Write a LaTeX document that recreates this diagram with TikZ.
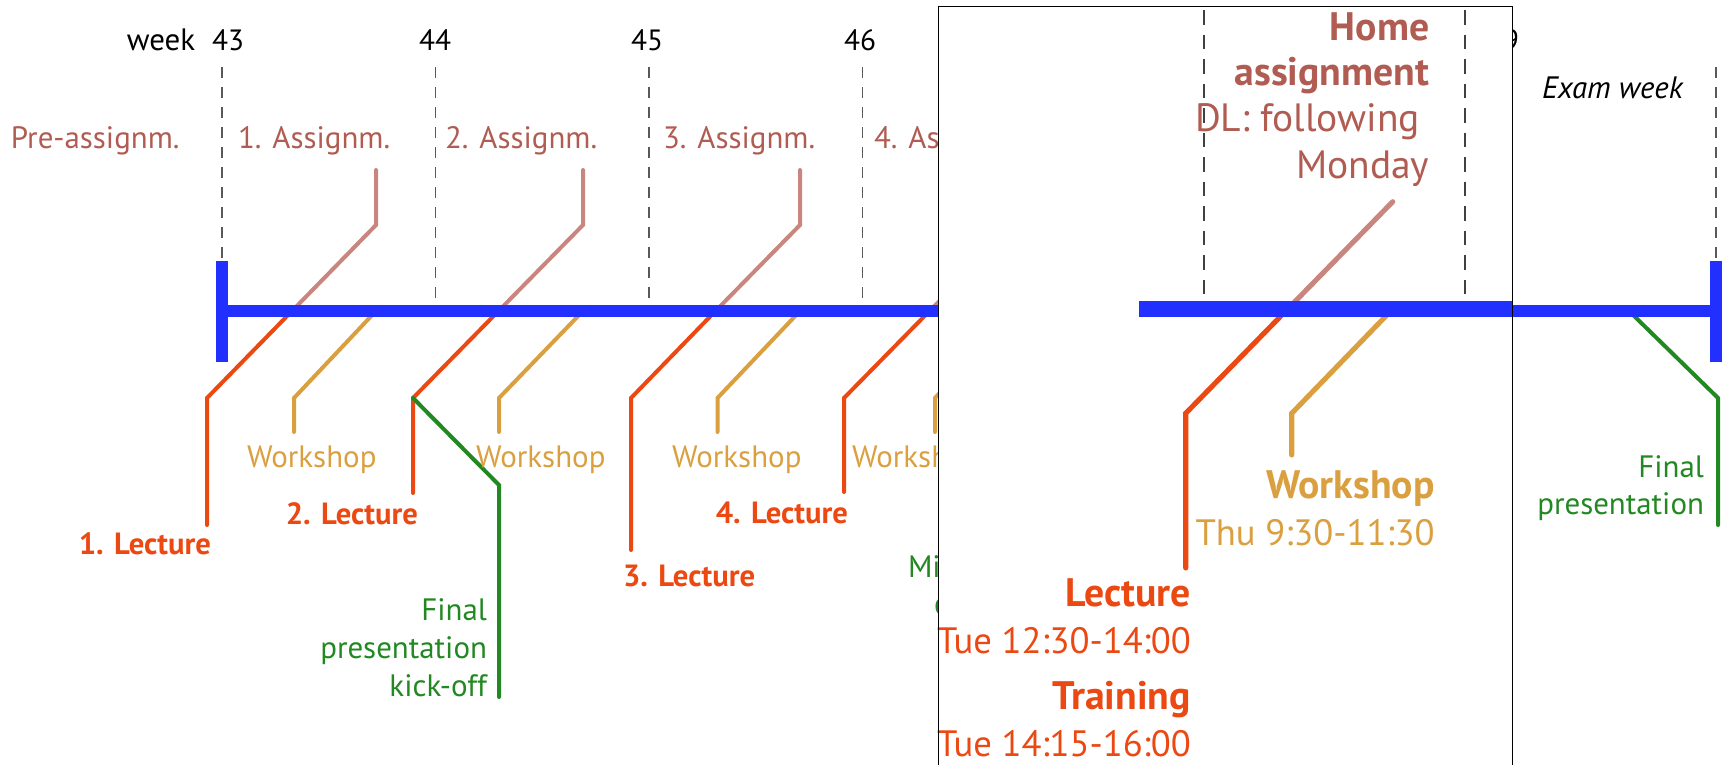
\documentclass[tikz,border=0pt]{standalone}
\usepackage{fontspec}
\setmainfont{PT Sans}
\definecolor{tlblue}{RGB}{34,48,255}
\definecolor{lectred}{RGB}{236,72,18}
\definecolor{wsgold}{RGB}{218,160,64}
\definecolor{asgline}{RGB}{201,134,126}
\definecolor{asgtext}{RGB}{176,92,82}
\definecolor{prgreen}{RGB}{34,136,34}
\tikzset{
  lbl/.style={inner sep=0pt, outer sep=0pt, font=\fontsize{22}{26}\selectfont},
  wlbl/.style={inner sep=0pt, outer sep=0pt, font=\fontsize{23.2}{27}\selectfont},
  wbold/.style={inner sep=0pt, outer sep=0pt, font=\fontsize{23}{27}\selectfont\bfseries},
  biglbl/.style={inner sep=0pt, outer sep=0pt, font=\fontsize{27.5}{33}\selectfont},
  bigword/.style={inner sep=0pt, outer sep=0pt, font=\fontsize{29.6}{35}\selectfont},
  bigbold/.style={inner sep=0pt, outer sep=0pt, font=\fontsize{29.8}{35}\selectfont\bfseries},
  weekdash/.style={black!65, line width=1.1pt, dash pattern=on 8.6pt off 6.4pt},
  boxdash/.style={black!75, line width=1.1pt, dash pattern=on 10.9pt off 7.5pt},
  conn/.style={line width=3pt, line cap=round, line join=miter},
  bigconn/.style={line width=3.8pt, line cap=round, line join=miter},
  tl/.style={tlblue, line width=9.2pt},
  tlbar/.style={tlblue, line width=9.45pt},
}
\begin{document}
\begin{tikzpicture}[x=0.75pt,y=-0.75pt]
\useasboundingbox (0,0) rectangle (1723,764);

% ---------- week labels ----------
\node[wlbl, anchor=base] (wk)  at (161,50) {week};
\node[lbl, anchor=base] (w43) at (228,50) {43};
\node[lbl, anchor=base] (w44) at (435,50) {44};
\node[lbl, anchor=base] (w45) at (647,50) {45};
\node[lbl, anchor=base] (w46) at (860,50) {46};
\node[lbl, anchor=base] (w49) at (1503,50) {49};
\node[wlbl, anchor=base west, font=\fontsize{23.2}{27}\selectfont\itshape] (exam) at (1542,98) {Exam week};

% ---------- dashed week separators ----------
\coordinate (d43t) at (222,67);   \coordinate (d43b) at (222,259);
\coordinate (d44t) at (435.5,67); \coordinate (d44b) at (435.5,305);
\coordinate (d45t) at (649,67);   \coordinate (d45b) at (649,305);
\coordinate (d46t) at (862.5,67); \coordinate (d46b) at (862.5,305);
\coordinate (d50t) at (1716,67);  \coordinate (d50b) at (1716,258);
\draw[weekdash] (d43t) -- (d43b);
\draw[weekdash] (d44t) -- (d44b);
\draw[weekdash] (d45t) -- (d45b);
\draw[weekdash] (d46t) -- (d46b);
\draw[weekdash] (d50t) -- (d50b);

% ---------- assignment labels ----------
\node[wlbl, text=asgtext, anchor=base west] (pa) at (11,148) {Pre-assignm.};
\node[wlbl, text=asgtext, anchor=base west] (a1) at (238,148) {1. Assignm.};
\node[wlbl, text=asgtext, anchor=base west] (a2) at (445,148) {2. Assignm.};
\node[wlbl, text=asgtext, anchor=base west] (a3) at (663,148) {3. Assignm.};
\node[wlbl, text=asgtext, anchor=base west] (a4) at (874,148) {4. Assignm.};

% ---------- week 43 ----------
\coordinate (p1t) at (376,170); \coordinate (p1k) at (376,225); \coordinate (x1) at (292,311);
\coordinate (l1k) at (207,398); \coordinate (l1b) at (207,525);
\draw[conn, asgline] (p1t) -- (p1k) -- (x1);
\draw[conn, lectred] (x1) -- (l1k) -- (l1b);
\coordinate (ws1s) at (376,311); \coordinate (ws1k) at (294,398); \coordinate (ws1b) at (294,432);
\draw[conn, wsgold] (ws1s) -- (ws1k) -- (ws1b);
\node[wbold, text=lectred, anchor=base east] (lec1) at (211,554) {1. Lecture};
\node[wlbl, text=wsgold, anchor=base west] (ws1) at (247,467) {Workshop};

% ---------- week 44 ----------
\coordinate (p2t) at (583,170); \coordinate (p2k) at (583,225); \coordinate (x2) at (498.5,311);
\coordinate (l2k) at (413,398); \coordinate (l2b) at (413,493);
\draw[conn, asgline] (p2t) -- (p2k) -- (x2);
\draw[conn, lectred] (x2) -- (l2k) -- (l2b);
\coordinate (ws2s) at (583,311); \coordinate (ws2k) at (499,398); \coordinate (ws2b) at (499,432);
\draw[conn, wsgold] (ws2s) -- (ws2k) -- (ws2b);
\coordinate (g1k) at (499,485); \coordinate (g1b) at (499,697);
\draw[conn, prgreen] (l2k) -- (g1k) -- (g1b);
\node[wbold, text=lectred, anchor=base east] (lec2) at (418,524) {2. Lecture};
\node[wlbl, text=wsgold, anchor=base west] (ws2) at (476,467) {Workshop};
\node[wlbl, text=prgreen, anchor=base east] (ko1) at (487,620) {Final};
\node[wlbl, text=prgreen, anchor=base east] (ko2) at (487,658) {presentation};
\node[wlbl, text=prgreen, anchor=base east] (ko3) at (487,696) {kick-off};

% ---------- week 45 ----------
\coordinate (p3t) at (800,170); \coordinate (p3k) at (800,225); \coordinate (x3) at (715.5,311);
\coordinate (l3k) at (631,398); \coordinate (l3b) at (631,550);
\draw[conn, asgline] (p3t) -- (p3k) -- (x3);
\draw[conn, lectred] (x3) -- (l3k) -- (l3b);
\coordinate (ws3s) at (800,311); \coordinate (ws3k) at (717.5,398); \coordinate (ws3b) at (717.5,432);
\draw[conn, wsgold] (ws3s) -- (ws3k) -- (ws3b);
\node[wbold, text=lectred, anchor=base west] (lec3) at (623,586) {3. Lecture};
\node[wlbl, text=wsgold, anchor=base west] (ws3) at (672,467) {Workshop};

% ---------- week 46 ----------
\coordinate (p4t) at (1014,170); \coordinate (p4k) at (1014,225); \coordinate (x4) at (929.5,311);
\coordinate (l4k) at (844,398); \coordinate (l4b) at (844,492);
\draw[conn, asgline] (p4t) -- (p4k) -- (x4);
\draw[conn, lectred] (x4) -- (l4k) -- (l4b);
\coordinate (ws4s) at (1014,311); \coordinate (ws4k) at (935,398); \coordinate (ws4b) at (935,432);
\draw[conn, wsgold] (ws4s) -- (ws4k) -- (ws4b);
\node[wbold, text=lectred, anchor=base east] (lec4) at (848,523) {4. Lecture};
\node[wlbl, text=wsgold, anchor=base west] (ws4) at (852,467) {Workshop};
\node[wlbl, text=prgreen, anchor=base west] (mt1) at (908,577) {Mid-term};
\node[wlbl, text=prgreen, anchor=base west] (mt2) at (934,614) {check};

% ---------- final presentation ----------
\coordinate (fps) at (1629,311); \coordinate (fpk) at (1718,398); \coordinate (fpb) at (1718,525);
\draw[conn, prgreen] (fps) -- (fpk) -- (fpb);
\node[wlbl, text=prgreen, anchor=base east] (fp1) at (1704,477) {Final};
\node[wlbl, text=prgreen, anchor=base east] (fp2) at (1704,514) {presentation};

% ---------- main timeline ----------
\coordinate (tlL) at (228,311); \coordinate (tlR) at (1710,311);
\coordinate (barLt) at (222,260.7); \coordinate (barLb) at (222,362);
\coordinate (barRt) at (1716,260.7); \coordinate (barRb) at (1716,362);
\draw[tl] (tlL) -- (tlR);
\draw[tlbar] (barLt) -- (barLb);
\draw[tlbar] (barRt) -- (barRb);

% ---------- zoom box ----------
\coordinate (boxA) at (938.5,6.5); \coordinate (boxB) at (1512.5,790);
\fill[white] (boxA) rectangle (boxB);

\coordinate (bd1t) at (1204,10); \coordinate (bd1b) at (1204,301);
\coordinate (bd2t) at (1465,10); \coordinate (bd2b) at (1465,301);
\draw[boxdash] (bd1t) -- (bd1b);
\draw[boxdash] (bd2t) -- (bd2b);

\coordinate (hpt) at (1392.7,201.7); \coordinate (hx) at (1288,308.7);
\coordinate (hlk) at (1185.7,413.3); \coordinate (hlb) at (1185.7,568);
\draw[bigconn, asgline] (hpt) -- (hx);
\draw[bigconn, lectred] (hx) -- (hlk) -- (hlb);
\coordinate (hws) at (1393,308.7); \coordinate (hwk) at (1291.7,413.3); \coordinate (hwb) at (1291.7,455);
\draw[bigconn, wsgold] (hws) -- (hwk) -- (hwb);

\coordinate (btlL) at (1139.3,308.7); \coordinate (btlR) at (1512.5,308.7);
\draw[tlblue, line width=12pt] (btlL) -- (btlR);

\node[bigbold, text=asgtext, anchor=base east] (ha1) at (1429.3,40) {Home};
\node[bigbold, text=asgtext, anchor=base east] (ha2) at (1429.3,85) {assignment};
\node[bigword, text=asgtext, anchor=base east] (ha3) at (1420,131.7) {DL: following};
\node[bigword, text=asgtext, anchor=base east] (ha4) at (1429.3,178) {Monday};

\node[bigbold, text=wsgold, anchor=base east] (bws1) at (1434.6,498) {Workshop};
\node[biglbl, text=wsgold, anchor=base east] (bws2) at (1434.6,545) {Thu 9:30-11:30};

\node[bigbold, text=lectred, anchor=base east] (blec1) at (1190.8,606) {Lecture};
\node[biglbl, text=lectred, anchor=base east] (blec2) at (1190.8,653) {Tue 12:30-14:00};
\node[bigbold, text=lectred, anchor=base east] (btr1) at (1190.8,709) {Training};
\node[biglbl, text=lectred, anchor=base east] (btr2) at (1190.8,756) {Tue 14:15-16:00};

\draw[black, line width=1.4pt] (boxA) rectangle (boxB);
\end{tikzpicture}
\end{document}
